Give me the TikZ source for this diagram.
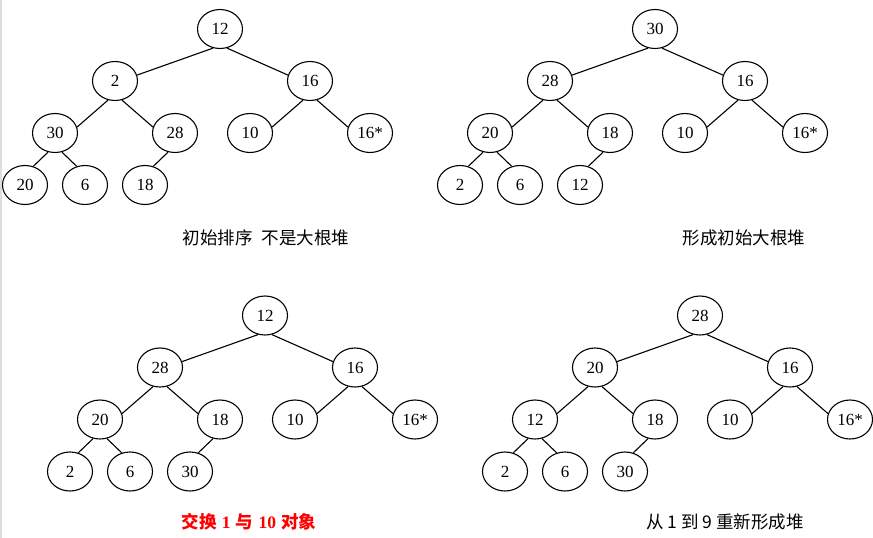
\documentclass[tikz,border=0pt]{standalone}
\usepackage{fontspec}
\setmainfont{Liberation Serif}
\newfontfamily\cjk{Noto Sans CJK SC}
\usetikzlibrary{shapes.geometric}
\tikzset{
  hn/.style={draw, ellipse, line width=1.1pt, minimum width=45pt, minimum height=39pt, inner sep=0pt, font=\fontsize{17}{20}\selectfont},
  edge/.style={line width=1.1pt},
  lab/.style={inner sep=0pt, font=\fontsize{17.5}{20}\selectfont}
}
\newcommand\heapedges[1]{%
  \draw[edge] (#1r.-110) -- (#1l.15);
  \draw[edge] (#1r.-70) -- (#1rr.165);
  \draw[edge] (#1l.-110) -- (#1ll.15);
  \draw[edge] (#1l.-70) -- (#1lr.165);
  \draw[edge] (#1rr.-110) -- (#1rl.15);
  \draw[edge] (#1rr.-70) -- (#1rrr.165);
  \draw[edge] (#1ll.-110) -- (#1lll.66);
  \draw[edge] (#1ll.-70) -- (#1llr.114);
  \draw[edge] (#1lr.-110) -- (#1lrl.66);
}
\begin{document}
\begin{tikzpicture}[x=1pt,y=-1pt]
\useasboundingbox (0,0) rectangle (873,538);
\fill[white] (0,0) rectangle (873,538);
\fill[black!13] (0,0) rectangle (2,538);

% tree A (top-left)
\foreach \n/\x/\y/\t in {r/220/29/12, l/115/81/2, rr/310/81/16, ll/55/133/30, lr/175/133/28, rl/250/133/10, rrr/370/133/16*, lll/25/185/20, llr/85/185/6, lrl/145/185/18}
  \node[hn] (A\n) at (\x,\y) {\t};
\heapedges{A}

% tree B (top-right)
\begin{scope}[shift={(435,0)}]
\foreach \n/\x/\y/\t in {r/220/29/30, l/115/81/28, rr/310/81/16, ll/55/133/20, lr/175/133/18, rl/250/133/10, rrr/370/133/16*, lll/25/185/2, llr/85/185/6, lrl/145/185/12}
  \node[hn] (B\n) at (\x,\y) {\t};
\end{scope}
\heapedges{B}

% tree C (bottom-left)
\begin{scope}[shift={(45,286.5)}]
\foreach \n/\x/\y/\t in {r/220/29/12, l/115/81/28, rr/310/81/16, ll/55/133/20, lr/175/133/18, rl/250/133/10, rrr/370/133/16*, lll/25/185/2, llr/85/185/6, lrl/145/185/30}
  \node[hn] (C\n) at (\x,\y) {\t};
\end{scope}
\heapedges{C}

% tree D (bottom-right)
\begin{scope}[shift={(480,286.5)}]
\foreach \n/\x/\y/\t in {r/220/29/28, l/115/81/20, rr/310/81/16, ll/55/133/12, lr/175/133/18, rl/250/133/10, rrr/370/133/16*, lll/25/185/2, llr/85/185/6, lrl/145/185/30}
  \node[hn] (D\n) at (\x,\y) {\t};
\end{scope}
\heapedges{D}

% captions
\node[lab] (capA) at (266,238) {\cjk 初始排序\hspace{0.5em}不是大根堆};
\node[lab] (capB) at (744,238) {\cjk 形成初始大根堆};
\node[lab, text=red] (capC) at (249,522) {\cjk\bfseries 交换\hspace{0.3em}{\rmfamily\bfseries 1}\hspace{0.3em}与\hspace{0.3em}{\rmfamily\bfseries 10}\hspace{0.3em}对象};
\node[lab] (capD) at (725,522) {\cjk 从 1 到 9 重新形成堆};
\end{tikzpicture}
\end{document}
